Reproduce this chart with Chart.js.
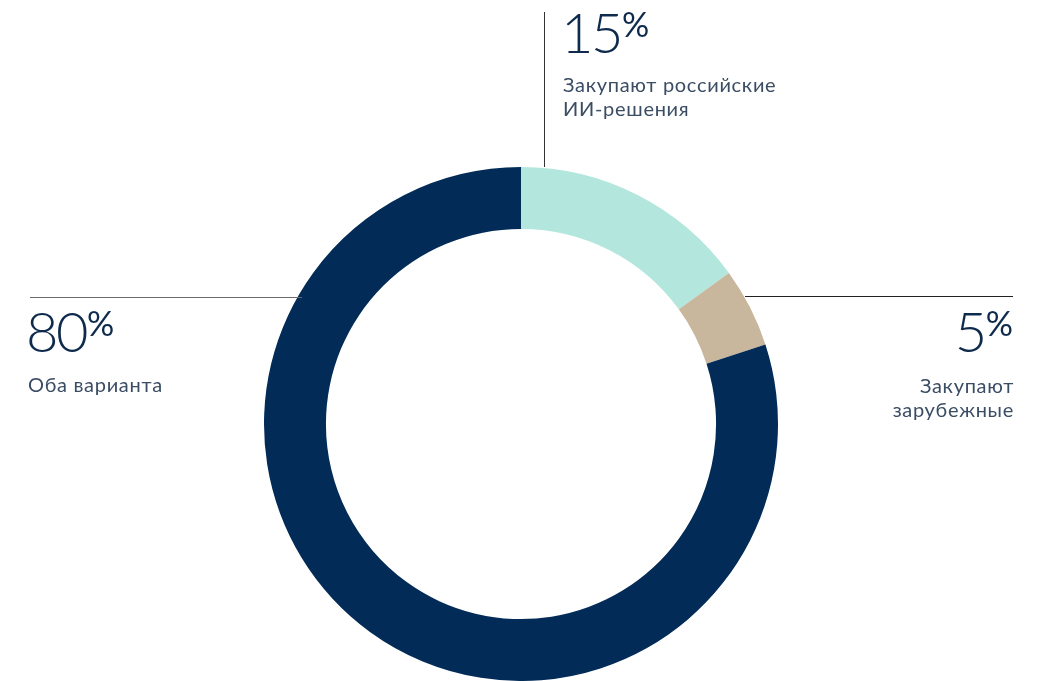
<!DOCTYPE html>
<html>
<head>
<meta charset="utf-8">
<script src="https://cdn.jsdelivr.net/npm/chart.js@4"></script>
<style>
  html, body { margin: 0; padding: 0; background: #fff; }
  #wrap { position: relative; width: 1049px; height: 681px; overflow: hidden; }
  canvas { position: absolute; left: 0; top: 0; }
  .big { position: absolute; font-family: "Lato", "Open Sans", sans-serif; font-weight: 300; color: #0e2a4c; font-size: 56px; line-height: 56px; white-space: nowrap; letter-spacing: -2.5px; }
  .big .pc { font-size: 34px; line-height: 34px; font-weight: 400; display: inline-block; vertical-align: top; position: relative; top: 3px; margin-left: 1px; letter-spacing: 0; }
  .lbl { position: absolute; font-family: "Lato", "Open Sans", sans-serif; font-weight: 400; color: #3b4d64; font-size: 20px; line-height: 24px; white-space: nowrap; letter-spacing: 0.7px; }
  .ln { position: absolute; }
</style>
</head>
<body>
<div id="wrap">
  <canvas id="c" width="1049" height="681"></canvas>
</div>
<script>
const categories = ["Закупают российские ИИ-решения", "Закупают зарубежные", "Оба варианта"];
const values = [15, 5, 80];
const colors = ["#b3e7dd", "#c8b79d", "#022b57"];
const labelLines = [["Закупают российские", "ИИ-решения"], ["Закупают", "зарубежные"], ["Оба варианта"]];

const chart = new Chart(document.getElementById('c'), {
  type: 'doughnut',
  data: {
    labels: categories,
    datasets: [{ data: values, backgroundColor: colors, borderWidth: 0, hoverOffset: 0 }]
  },
  options: {
    responsive: false,
    animation: false,
    cutout: '75.9%',
    layout: { padding: { left: 264, right: 271, top: 167, bottom: 0 } },
    plugins: { legend: { display: false }, tooltip: { enabled: false } }
  }
});

const wrap = document.getElementById('wrap');
function add(cls, html, style) {
  const d = document.createElement('div');
  d.className = cls; d.innerHTML = html;
  Object.assign(d.style, style);
  wrap.appendChild(d);
  return d;
}
// leader lines
add('ln', '', { left: '544px', top: '12px', width: '1px', height: '155px', background: '#333' });
add('ln', '', { left: '30px', top: '297px', width: '272px', height: '1px', background: '#6b6b6b' });
add('ln', '', { left: '745px', top: '296px', width: '268px', height: '1px', background: '#222' });

// values and labels
add('big', values[0] + '<span class="pc">%</span>', { left: '561px', top: '4px' });
add('lbl', labelLines[0].join('<br>'), { left: '563px', top: '72px' });

add('big', values[2] + '<span class="pc">%</span>', { left: '26px', top: '303px' });
add('lbl', labelLines[2].join('<br>'), { left: '28px', top: '372px' });

add('big', values[1] + '<span class="pc">%</span>', { right: '36px', top: '303px', textAlign: 'right' });
add('lbl', labelLines[1].join('<br>'), { right: '35px', top: '373px', textAlign: 'right' });
</script>
</body>
</html>
